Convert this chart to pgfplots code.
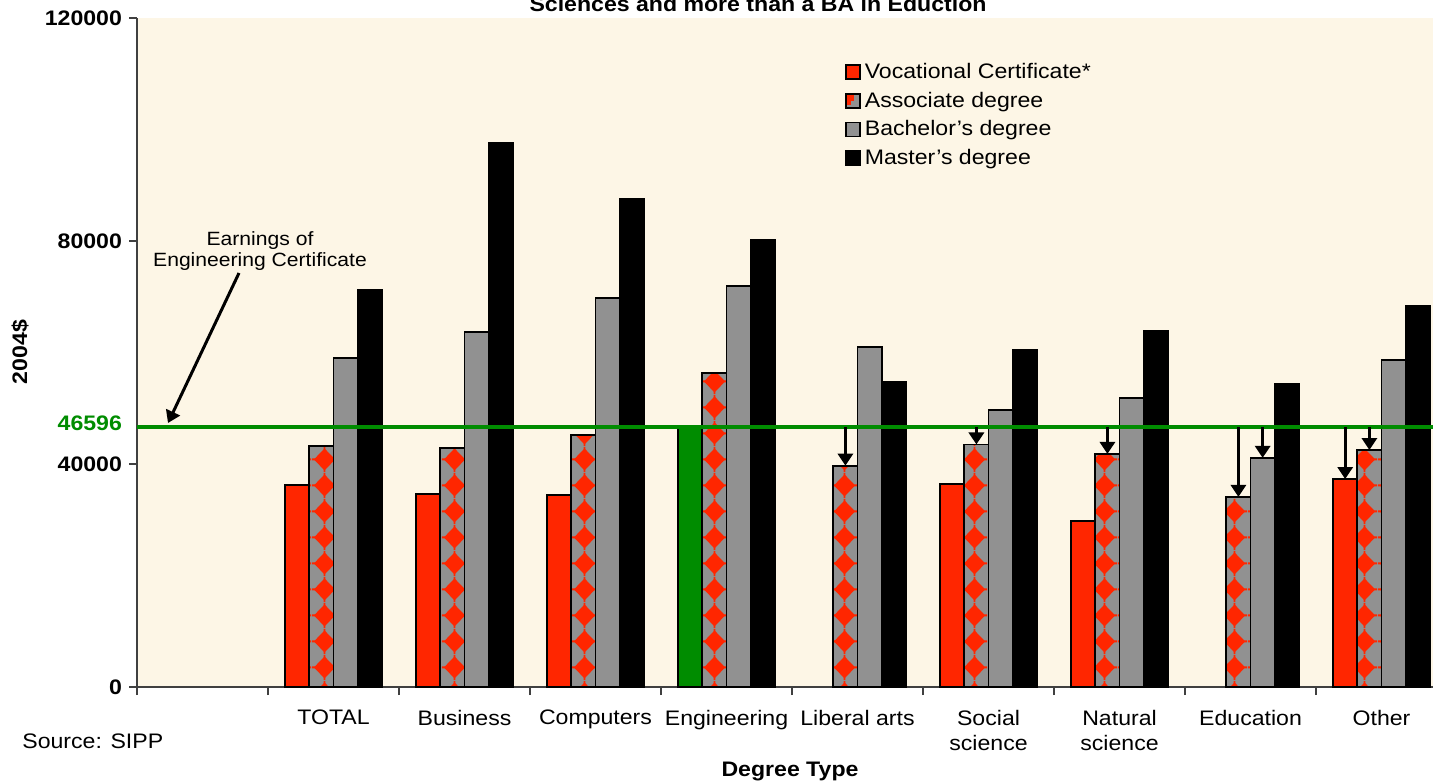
\documentclass[border=0pt]{standalone}
\usepackage{pgfplots}
\pgfplotsset{compat=1.18}
\usepackage{fontspec}
\setmainfont{Liberation Sans}[FakeStretch=1.1]
\usetikzlibrary{patterns,arrows.meta}

\definecolor{cream}{RGB}{253,246,230}
\definecolor{vred}{RGB}{255,38,0}
\definecolor{bgray}{RGB}{145,145,145}
\definecolor{lgreen}{RGB}{0,140,0}

% red diamonds on the associate bars
\pgfdeclarepatternformonly{reddiamonds}{\pgfqpoint{0pt}{0pt}}{\pgfqpoint{13pt}{13pt}}{\pgfqpoint{13pt}{13pt}}{
  \pgfpathmoveto{\pgfqpoint{6.5pt}{0.8pt}}
  \pgfpathlineto{\pgfqpoint{12pt}{6.5pt}}
  \pgfpathlineto{\pgfqpoint{6.5pt}{12.2pt}}
  \pgfpathlineto{\pgfqpoint{1pt}{6.5pt}}
  \pgfpathclose
  \pgfusepath{fill}
  \pgfpathrectangle{\pgfqpoint{6pt}{0pt}}{\pgfqpoint{1pt}{13pt}}
  \pgfusepath{fill}
  \pgfpathrectangle{\pgfqpoint{0pt}{6pt}}{\pgfqpoint{13pt}{1pt}}
  \pgfusepath{fill}
}

\newcommand{\fs}{\fontsize{10.5}{12.5}\selectfont}

\pgfplotsset{
  legsq/.style={legend image code/.code={\draw[##1] (0pt,-3.5pt) rectangle (7pt,3.5pt);}},
  legassoc/.style={legend image code/.code={
    \draw[fill=bgray, draw=black, line width=0.9pt] (0pt,-3.5pt) rectangle (7pt,3.5pt);
    \fill[vred] (0.8pt,0.5pt) rectangle (3.5pt,2.7pt);
    \fill[vred] (0.8pt,-1.5pt) rectangle (2pt,0.5pt);}},
}

\begin{document}
\begin{tikzpicture}
\begin{axis}[
  at={(68.5pt,48pt)}, anchor=south west,
  scale only axis, width=648pt, height=334.5pt,
  ybar=0pt, bar width=0.185,
  xmin=-0.5, xmax=9.393,
  ymin=0, ymax=120000,
  axis x line*=bottom, axis y line*=left,
  axis line style={black!75, line width=0.8pt},
  axis background/.style={fill=cream},
  tick align=outside,
  major tick length=4pt,
  tick style={black!75, line width=0.8pt},
  xtick={-0.5,0.5,...,8.5},
  xticklabels={{},TOTAL,Business,Computers,Engineering,Liberal arts,{Social\\science},{Natural\\science},Education,Other},
  xticklabel style={xshift=32.75pt, anchor=north, align=center, font=\fs, yshift=-4pt},
  ytick={0,40000,80000,120000},
  yticklabel style={font=\fs\bfseries},
  scaled y ticks=false,
  /pgf/number format/fixed,
  /pgf/number format/precision=0,
  /pgf/number format/1000 sep={},
  /pgf/number format/assume math mode=true,
  extra y ticks={46596},
  extra y tick style={yticklabel style={text=lgreen, yshift=2pt}, tick style={draw=none}},
  legend style={font=\fs, draw=none, fill=none, inner sep=0pt,
    at={(rel axis cs:0.546,0.939)}, anchor=north west,
    cells={anchor=west}, row sep=1.2pt},
]
\addplot[legsq, bar shift=-0.2775, fill=vred, draw=black, line width=0.9pt] coordinates {
  (1,36200) (2,34600) (3,34400) (6,36400) (7,29800) (9,37300)
};
\addlegendentry{Vocational Certificate*}
\addplot[legassoc, bar shift=-0.0925, fill=bgray, draw=black, line width=0.9pt] coordinates {
  (1,43200) (2,42800) (3,45200) (4,56300) (5,39700) (6,43500) (7,41800) (8,34100) (9,42500)
};
\addlegendentry{Associate degree}
\addplot[legsq, bar shift=0.0925, fill=bgray, draw=black, line width=0.9pt] coordinates {
  (1,59000) (2,63700) (3,69800) (4,71900) (5,61000) (6,49700) (7,51800) (8,41100) (9,58700)
};
\addlegendentry{Bachelor's degree}
\addplot[legsq, bar shift=0.2775, fill=black, draw=black, line width=0.9pt] coordinates {
  (1,71200) (2,97600) (3,87500) (4,80200) (5,54700) (6,60400) (7,63900) (8,54300) (9,68300)
};
\addlegendentry{Master's degree}
% pattern layer over the associate bars
\addplot[forget plot, bar shift=-0.0925, pattern=reddiamonds, pattern color=vred, draw=black, line width=0.9pt] coordinates {
  (1,43200) (2,42800) (3,45200) (4,56300) (5,39700) (6,43500) (7,41800) (8,34100) (9,42500)
};
% engineering certificate
\addplot[forget plot, bar shift=-0.2775, fill=lgreen, draw=black, line width=0.9pt] coordinates {(4,46596)};
% reference line
\addplot[forget plot, sharp plot, lgreen, line width=2pt] coordinates {(-0.5,46596) (9.393,46596)};
% arrows down to bars below the line
\draw[black, line width=1.5pt, -{Triangle[width=7.5pt,length=6pt]}] (axis cs:4.9075,46596) -- (axis cs:4.9075,39700);
\draw[black, line width=1.5pt, -{Triangle[width=7.5pt,length=6pt]}] (axis cs:5.9075,46596) -- (axis cs:5.9075,43500);
\draw[black, line width=1.5pt, -{Triangle[width=7.5pt,length=6pt]}] (axis cs:6.9075,46596) -- (axis cs:6.9075,41800);
\draw[black, line width=1.5pt, -{Triangle[width=7.5pt,length=6pt]}] (axis cs:7.9075,46596) -- (axis cs:7.9075,34100);
\draw[black, line width=1.5pt, -{Triangle[width=7.5pt,length=6pt]}] (axis cs:8.0925,46596) -- (axis cs:8.0925,41100);
\draw[black, line width=1.5pt, -{Triangle[width=7.5pt,length=6pt]}] (axis cs:8.7225,46596) -- (axis cs:8.7225,37300);
\draw[black, line width=1.5pt, -{Triangle[width=7.5pt,length=6pt]}] (axis cs:8.9075,46596) -- (axis cs:8.9075,42500);
\end{axis}

\node[anchor=base, font=\fs\bfseries] at (379pt,385.5pt) {Sciences and more than a BA in Eduction};
\node[rotate=90, font=\fs\bfseries] at (10pt,215.5pt) {2004\$};
\node[anchor=west, font=\fs, inner sep=0pt] at (11pt,21pt) {Source: SIPP};
\node[font=\fs\bfseries] at (395pt,6pt) {Degree Type};
\node[align=center, font=\fontsize{9.6}{10.6}\selectfont] at (130pt,266pt) {Earnings of\\Engineering Certificate};
\draw[black, line width=1.5pt, -{Triangle[width=7.5pt,length=6pt]}] (119.5pt,255pt) -- (84pt,180pt);

\pgfresetboundingbox
\useasboundingbox (0,0) rectangle (716.5pt,391.5pt);
\end{tikzpicture}
\end{document}
